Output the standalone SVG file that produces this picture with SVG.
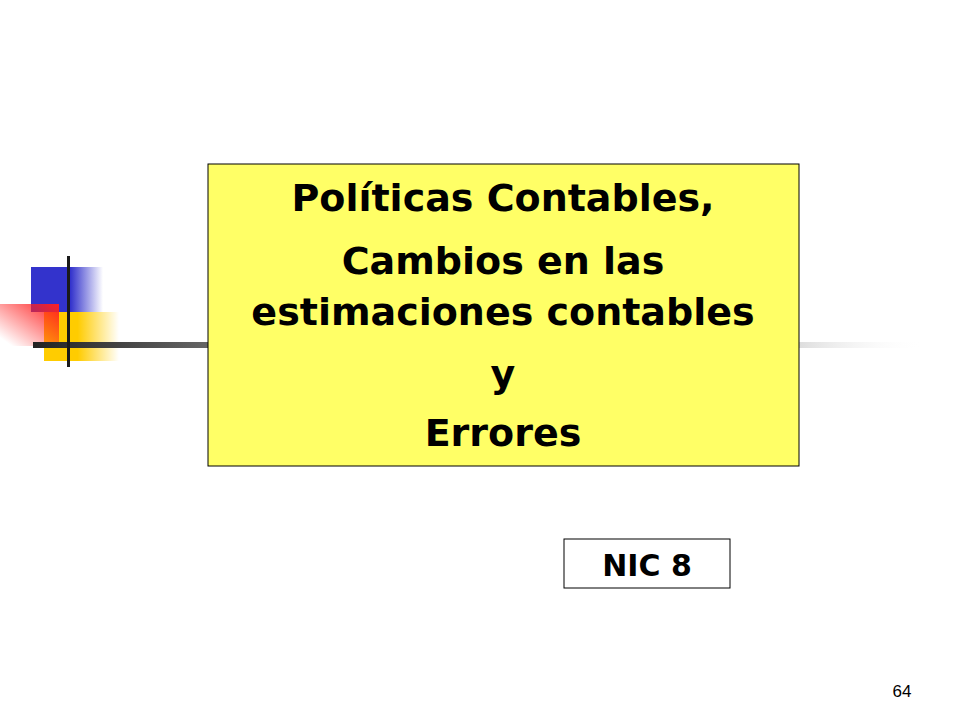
<svg xmlns="http://www.w3.org/2000/svg" width="960" height="720" viewBox="0 0 960 720">
<defs>
<linearGradient id="gb" x1="0" x2="1"><stop offset="0" stop-color="#3333cc"/><stop offset="0.55" stop-color="#3333cc"/><stop offset="1" stop-color="#3333cc" stop-opacity="0"/></linearGradient>
<linearGradient id="gy" x1="0" x2="1"><stop offset="0" stop-color="#ffcc00"/><stop offset="0.45" stop-color="#ffcc00"/><stop offset="1" stop-color="#ffcc00" stop-opacity="0"/></linearGradient>
<linearGradient id="gr" x1="1" y1="0" x2="0" y2="1"><stop offset="0" stop-color="#ff2020"/><stop offset="0.9" stop-color="#ff2020" stop-opacity="0"/></linearGradient>
<linearGradient id="gl" x1="0" x2="1"><stop offset="0" stop-color="#222"/><stop offset="1" stop-color="#666"/></linearGradient>
<linearGradient id="gl2" x1="0" x2="1"><stop offset="0" stop-color="#ddd"/><stop offset="1" stop-color="#fff" stop-opacity="0"/></linearGradient>
<style>.t{font-family:Tahoma,"DejaVu Sans",sans-serif;font-weight:bold;fill:#000;text-anchor:middle}</style>
</defs>
<rect width="960" height="720" fill="#fff"/>
<g id="decor">
<rect x="31" y="267" width="72" height="45" fill="url(#gb)"/>
<rect x="44" y="312" width="75" height="49" fill="url(#gy)"/>
<rect x="0" y="304" width="59" height="42" fill="url(#gr)"/>
<rect x="33" y="342" width="176" height="6" fill="url(#gl)"/>
<rect x="799" y="342" width="125" height="6" fill="url(#gl2)"/>
<rect x="67" y="256" width="3" height="111" fill="#1a1a1a"/>
</g>
<g id="title">
<rect x="208" y="164" width="591" height="302" fill="#ffff66" stroke="#000" stroke-width="1"/>
<text class="t" x="503" y="211" font-size="38">Políticas Contables,</text>
<text class="t" x="503" y="274" font-size="38">Cambios en las</text>
<text class="t" x="503" y="325" font-size="38">estimaciones contables</text>
<text class="t" x="503" y="387" font-size="38">y</text>
<text class="t" x="503" y="446" font-size="38">Errores</text>
</g>
<g id="nic">
<rect x="564" y="539" width="166" height="49" fill="#fff" stroke="#000" stroke-width="1"/>
<text class="t" x="647" y="576" font-size="30">NIC 8</text>
</g>
<text x="902" y="697" font-family="Liberation Sans,Arial,sans-serif" font-size="17" text-anchor="middle">64</text>
</svg>
